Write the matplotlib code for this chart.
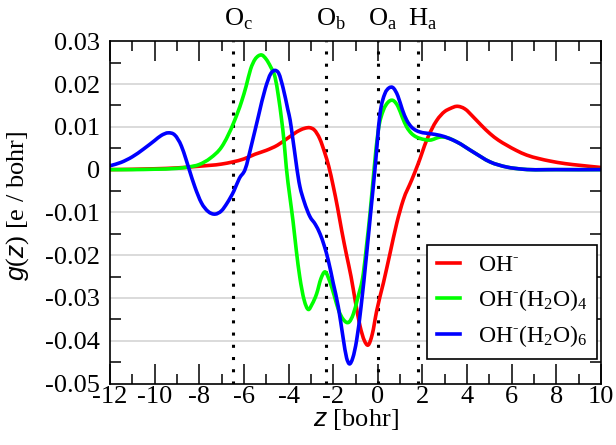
import numpy as np
import matplotlib
matplotlib.use('Agg')
import matplotlib.pyplot as plt
from matplotlib.ticker import MultipleLocator, FixedLocator
from matplotlib.path import Path
from matplotlib.patches import PathPatch
from matplotlib.lines import Line2D

plt.rcParams['font.family'] = ['Liberation Serif', 'DejaVu Serif']
plt.rcParams['mathtext.fontset'] = 'custom'
plt.rcParams['mathtext.rm'] = 'Liberation Serif'
plt.rcParams['mathtext.it'] = 'Liberation Sans:italic'
plt.rcParams['mathtext.bf'] = 'Liberation Serif:bold'
plt.rcParams['axes.unicode_minus'] = False

# OH-
z_oh = [-12, -10, -9, -8, -7, -6.5, -6, -5.5, -5, -4.5, -4, -3.5, -3.25, -3.05, -2.85,
        -2.6, -2.37, -2.2, -2.0, -1.8, -1.62, -1.4, -1.2, -1.0, -0.8, -0.6, -0.43, -0.25,
        -0.05, 0.25, 0.55, 0.85, 1.14, 1.52, 1.81, 2.19, 2.64, 3.0, 3.25, 3.53, 3.9, 4.28,
        4.65, 5.03, 5.4, 5.78, 6.2, 6.67, 7.2, 7.72, 8.4, 9.06, 10]
g_oh = [0.0000, 0.0002, 0.0004, 0.0008, 0.0013, 0.0018, 0.0025, 0.0036, 0.0045, 0.0057,
        0.0075, 0.0092, 0.0097, 0.0098, 0.0093, 0.0072, 0.0038, 0.0008, -0.0038, -0.0090,
        -0.0142, -0.0200, -0.0250, -0.0310, -0.0365, -0.0400, -0.0410, -0.0385, -0.0330,
        -0.0265, -0.0195, -0.0125, -0.0071, -0.0024, 0.0014, 0.0069, 0.0115, 0.0136,
        0.0143, 0.0148, 0.0142, 0.0123, 0.0103, 0.0084, 0.0069, 0.0057, 0.0045, 0.0034,
        0.0026, 0.0020, 0.0014, 0.0010, 0.0005]

# OH-(H2O)4
z_w4 = [-12, -11, -10, -9, -8.5, -8, -7.5, -7.0, -6.44, -6.1, -5.9, -5.7, -5.5, -5.35,
        -5.2, -5.0, -4.8, -4.6, -4.45, -4.31, -4.2, -4.1, -3.95, -3.8, -3.65, -3.5, -3.3,
        -3.11, -2.95, -2.74, -2.55, -2.37, -2.15, -1.95, -1.75, -1.55, -1.28, -1.1, -0.9,
        -0.65, -0.5, -0.35, -0.17, 0.02, 0.25, 0.45, 0.67, 0.9, 1.1, 1.29, 1.5, 1.7, 1.89,
        2.34, 2.79, 3.09, 3.53, 4.28, 5.03, 5.78, 6.5, 8, 10]
g_w4 = [0.0000, 0.0000, 0.0001, 0.0003, 0.0006, 0.0012, 0.0027, 0.0053, 0.0112, 0.0160,
        0.0195, 0.0235, 0.0258, 0.0266, 0.0268, 0.0258, 0.0240, 0.0215, 0.0170, 0.0116,
        0.0065, 0.0005, -0.0060, -0.0120, -0.0190, -0.0250, -0.0305, -0.0327, -0.0315,
        -0.0290, -0.0255, -0.0239, -0.0262, -0.0295, -0.0330, -0.0350, -0.0356, -0.0338,
        -0.0300, -0.0243, -0.0175, -0.0103, 0.0000, 0.0092, 0.0139, 0.0157, 0.0162, 0.0148,
        0.0122, 0.0100, 0.0085, 0.0077, 0.0073, 0.0069, 0.0076, 0.0075, 0.0065, 0.0041,
        0.0018, 0.0006, 0.0001, 0.0000, 0.0000]

# OH-(H2O)6
z_w6 = [-12, -11.5, -11, -10.5, -10, -9.7, -9.39, -9.1, -8.8, -8.6, -8.45, -8.2, -7.9,
        -7.6, -7.29, -7.0, -6.75, -6.45, -6.2, -5.95, -5.65, -5.35, -5.04, -4.79, -4.61,
        -4.44, -4.24, -4.03, -3.93, -3.83, -3.49, -3.3, -3.04, -2.8, -2.59, -2.4, -2.22,
        -2.0, -1.77, -1.55, -1.4, -1.28, -1.12, -0.95, -0.75, -0.5, -0.3, -0.13, 0.1,
        0.32, 0.5, 0.67, 0.9, 1.1, 1.29, 1.5, 1.7, 1.89, 2.34, 2.79, 3.53, 4.28, 5.03,
        5.78, 6.5, 8, 10]
g_w6 = [0.0009, 0.0017, 0.0030, 0.0048, 0.0068, 0.0080, 0.0086, 0.0081, 0.0055, 0.0025,
        0.0000, -0.0040, -0.0078, -0.0098, -0.0104, -0.0096, -0.0078, -0.0050, -0.0020,
        0.0000, 0.0060, 0.0125, 0.0190, 0.0225, 0.0232, 0.0225, 0.0190, 0.0140, 0.0116,
        0.0080, -0.0040, -0.0075, -0.0110, -0.0128, -0.0150, -0.0178, -0.0212, -0.0265,
        -0.0321, -0.0395, -0.0440, -0.0454, -0.0440, -0.0399, -0.0320, -0.0196, -0.0090,
        0.0000, 0.0131, 0.0178, 0.0191, 0.0192, 0.0172, 0.0140, 0.0116, 0.0100, 0.0092,
        0.0088, 0.0084, 0.0080, 0.0065, 0.0041, 0.0018, 0.0006, 0.0001, 0.0000, 0.0000]

series = [(z_oh, g_oh, '#ff0000', r'OH$^{\text{-}}$'),
          (z_w4, g_w4, '#00ff00', r'OH$^{\text{-}}$(H$_2$O)$_4$'),
          (z_w6, g_w6, '#0000ff', r'OH$^{\text{-}}$(H$_2$O)$_6$')]

# atom positions marked by dotted lines
atom_z = [-6.47, -2.32, 0.0, 1.81]
atom_labels = [r'O$_\mathrm{c}$', r'O$_\mathrm{b}$', r'O$_\mathrm{a}$', r'H$_\mathrm{a}$']

yticks = [0.03, 0.02, 0.01, 0.0, -0.01, -0.02, -0.03, -0.04, -0.05]
ytick_labels = ['0.03', '0.02', '0.01', '0', '-0.01', '-0.02', '-0.03', '-0.04', '-0.05']


def smooth_path(x, y):
    # cubic Bezier segments through the data points (Hermite tangents)
    x = np.asarray(x, float)
    y = np.asarray(y, float)
    h = np.diff(x)
    d = np.diff(y) / h
    m = np.empty_like(y)
    m[0], m[-1] = d[0], d[-1]
    m[1:-1] = (h[:-1] * d[1:] + h[1:] * d[:-1]) / (h[:-1] + h[1:])
    verts = [(x[0], y[0])]
    codes = [Path.MOVETO]
    for i in range(len(h)):
        verts += [(x[i] + h[i] / 3, y[i] + m[i] * h[i] / 3),
                  (x[i + 1] - h[i] / 3, y[i + 1] - m[i + 1] * h[i] / 3),
                  (x[i + 1], y[i + 1])]
        codes += [Path.CURVE4] * 3
    return Path(verts, codes)


fig = plt.figure(figsize=(6.16, 4.45), dpi=100)
ax = fig.add_axes([110/616, 61.5/445, 491/616, 342.2/445])

for y in yticks[1:-1]:
    ax.axhline(y, color='#d8d8d8', lw=1.3, zorder=0)

for zz in atom_z:
    ax.axvline(zz, color='black', lw=2.2, ls=(0, (1, 3.0)), zorder=1)

handles = []
for z, g, c, lab in series:
    ax.add_patch(PathPatch(smooth_path(z, g), fill=False, edgecolor=c, lw=2.6,
                           capstyle='round', joinstyle='round', zorder=2))
    handles.append(Line2D([], [], color=c, lw=2.6, label=lab))

for zz, lab in zip(atom_z, atom_labels):
    ax.annotate(lab, xy=(zz, 0.03), xytext=(-7, 11), textcoords='offset points',
                ha='left', va='baseline', fontsize=19, annotation_clip=False)

ax.set_xlim(-12, 10)
ax.set_ylim(-0.05, 0.03)
ax.xaxis.set_major_locator(MultipleLocator(2))
ax.xaxis.set_minor_locator(MultipleLocator(1))
ax.yaxis.set_major_locator(FixedLocator(yticks))
ax.set_yticklabels(ytick_labels)
ax.yaxis.set_minor_locator(MultipleLocator(0.005))
ax.tick_params(axis='x', which='major', direction='in', length=14.4, width=1.1,
               top=True, labelsize=19, pad=2)
ax.tick_params(axis='x', which='minor', direction='in', length=7.2, width=1.1, top=True)
ax.tick_params(axis='y', which='major', direction='in', length=0, right=True,
               labelsize=19, pad=7)
ax.tick_params(axis='y', which='minor', direction='in', length=7.9, width=1.1, right=True)
for sp in ax.spines.values():
    sp.set_linewidth(1.2)

ax.set_xlabel(r'$z$ [bohr]', fontsize=19, labelpad=-1)
ax.set_ylabel(r'$g(z)$ [e / bohr]', fontsize=19, labelpad=3)
ax.yaxis.set_label_coords(-0.16, 0.52)

leg = ax.legend(handles=handles, loc='lower right', bbox_to_anchor=(0.992, 0.072),
                fontsize=17, frameon=True, fancybox=False, edgecolor='black',
                framealpha=1, handlelength=1.0, handletextpad=0.75, borderpad=0.4,
                labelspacing=0.45, borderaxespad=0)
leg.get_frame().set_linewidth(1.2)

fig.savefig('out.png', dpi=100)
